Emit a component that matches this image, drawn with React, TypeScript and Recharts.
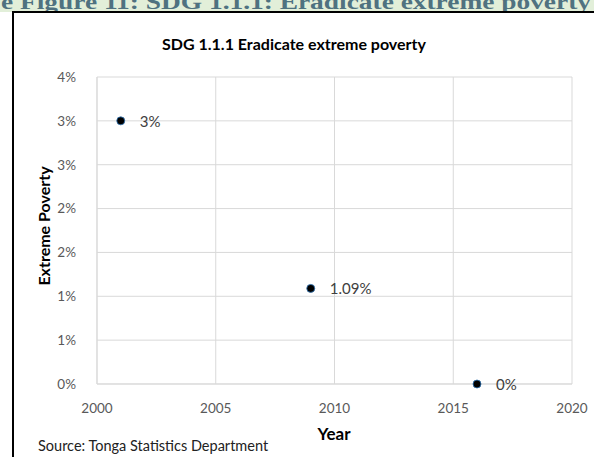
import React from "react";
import {
  ScatterChart,
  Scatter,
  XAxis,
  YAxis,
  CartesianGrid,
} from "recharts";

// survey years and extreme poverty rate (%)
const years = [2001, 2009, 2016];
const povertyRates = [3, 1.09, 0];

const xTicks = [2000, 2005, 2010, 2015, 2020];
const yTicks = [0, 0.5, 1, 1.5, 2, 2.5, 3, 3.5];
const yTickLabels = ["0%", "1%", "1%", "2%", "2%", "3%", "3%", "4%"];

const chartData = years.map((year, i) => ({ year, value: povertyRates[i] }));

const FONT = "Lato, 'Open Sans', sans-serif";
const GRID = "#d9d9d9";

const PointWithLabel = (props: any) => {
  const { cx, cy, payload } = props;
  return (
    <g>
      <circle cx={cx} cy={cy} r={4} fill="#000" stroke="#2e75b6" strokeWidth={0.8} />
      <text
        x={cx + 19}
        y={cy}
        dominantBaseline="central"
        fontSize={15}
        fontFamily={FONT}
        fill="#404040"
      >
        {`${payload.value}%`}
      </text>
    </g>
  );
};

export default function App() {
  return (
    <div style={{ position: "absolute", left: 0, top: 0, width: 594, height: 459, background: "#fff", overflow: "hidden" }}>
      {/* caption strip from the report, cut off at the top */}
      <svg width={594} height={12} style={{ position: "absolute", left: 0, top: 0 }}>
        <rect x={0} y={0} width={594} height={12} fill="#e2efd9" />
        <text
          x={1}
          y={9}
          fontFamily="'Liberation Serif', 'DejaVu Serif', serif"
          fontWeight="bold"
          fontSize={22}
          fill="#4f7280"
          textLength={590}
          lengthAdjust="spacingAndGlyphs"
        >
          e Figure 11: SDG 1.1.1: Eradicate extreme poverty
        </text>
      </svg>

      <div style={{ position: "absolute", left: 0, top: 0 }}>
        <ScatterChart
          width={594}
          height={459}
          margin={{ top: 77, right: 22, bottom: 45, left: 47 }}
        >
          <CartesianGrid stroke={GRID} strokeWidth={1} />
          <XAxis
            type="number"
            dataKey="year"
            domain={[2000, 2020]}
            ticks={xTicks}
            height={30}
            tickLine={false}
            axisLine={{ stroke: GRID }}
            tickMargin={13}
            tick={{ fontSize: 13.5, fill: "#595959", fontFamily: FONT }}
          />
          <YAxis
            type="number"
            dataKey="value"
            domain={[0, 3.5]}
            ticks={yTicks}
            width={50}
            tickLine={false}
            axisLine={{ stroke: GRID }}
            tickMargin={15}
            tickFormatter={(v: number) => yTickLabels[yTicks.indexOf(v)]}
            tick={{ fontSize: 13.5, fill: "#595959", fontFamily: FONT }}
          />
          <Scatter data={chartData} shape={PointWithLabel} isAnimationActive={false} />
        </ScatterChart>
      </div>

      {/* titles and frame */}
      <svg width={594} height={459} style={{ position: "absolute", left: 0, top: 0, pointerEvents: "none" }}>
        <line x1={12} y1={12} x2={594} y2={12} stroke="#000" strokeWidth={2} />
        <line x1={13} y1={11} x2={13} y2={457} stroke="#000" strokeWidth={2} />
        <text x={294} y={43} textAnchor="middle" dominantBaseline="central" fontFamily={FONT} fontWeight="bold" fontSize={16} fill="#000">
          SDG 1.1.1 Eradicate extreme poverty
        </text>
        <text
          x={43}
          y={226}
          transform="rotate(-90 43 226)"
          textAnchor="middle"
          dominantBaseline="central"
          fontFamily={FONT}
          fontWeight="bold"
          fontSize={16}
          fill="#000"
        >
          Extreme Poverty
        </text>
        <text x={334} y={433} textAnchor="middle" dominantBaseline="central" fontFamily={FONT} fontWeight="bold" fontSize={17} fill="#000">
          Year
        </text>
        <text x={38} y={445} dominantBaseline="central" fontFamily={FONT} fontSize={14.5} fill="#222">
          Source: Tonga Statistics Department
        </text>
      </svg>
    </div>
  );
}
